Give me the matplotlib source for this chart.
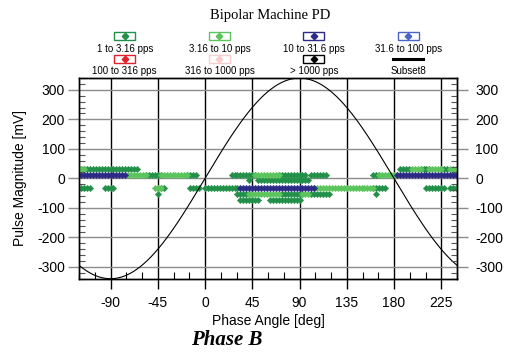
import numpy as np
import matplotlib
matplotlib.use('Agg')
import matplotlib.pyplot as plt
from matplotlib.ticker import FixedLocator, FixedFormatter, MultipleLocator
from matplotlib.patches import Rectangle
from matplotlib.lines import Line2D

plt.rcParams['font.family'] = ['Liberation Sans', 'DejaVu Sans']
plt.rcParams['axes.unicode_minus'] = False

# ---------------- data ----------------
title = "Bipolar Machine PD"
subtitle = "Phase B"
x_label = "Phase Angle [deg]"
y_label = "Pulse Magnitude [mV]"
x_ticks = [-90, -45, 0, 45, 90, 135, 180, 225]
x_tick_labels = ["-90", "-45", "0", "45", "90", "135", "180", "225"]
y_ticks = [-300, -200, -100, 0, 100, 200, 300]
y_tick_labels = ["-300", "-200", "-100", "0", "100", "200", "300"]

legend_labels = ["1 to 3.16 pps", "3.16 to 10 pps", "10 to 31.6 pps", "31.6 to 100 pps",
                 "100 to 316 pps", "316 to 1000 pps", "> 1000 pps", "Subset8"]
legend_colors = ["#23904a", "#5cc45c", "#2b2b85", "#4a64c8",
                 "#e0202a", "#f8cccc", "#000000", "#000000"]

phase_bin = 360 / 128      # instrument phase-bin width [deg]
sine_amplitude = 340       # reference sine amplitude [mV]

# occupied phase-bin runs: start phase, end phase, magnitude
# 1 to 3.16 pps (dark green)
dg_start = [-119, -75, 187, 206, 225, -55, -17, 25, 70, 101, 161, 42, 50,
            -119, -97, -41, -14, 0, 160, 212, 234, 30, 72, 100, -44, 164, 33, 61, 79]
dg_end = [-79, -66, 195, 213, 232, -43, -9, 47, 97, 116, 166, 42, 98,
          -110, -88, -38, -6, 32, 172, 228, 238, 42, 92, 119, -44, 164, 50, 76, 90]
dg_mag = [33, 33, 33, 33, 33, 12, 12, 12, 12, 12, 12, -7, -7,
          -33, -33, -33, -33, -33, -33, -33, -33, -52, -52, -52, -54, -54, -72, -72, -72]

# 3.16 to 10 pps (light green)
lg_start = [-119, 196, 214, 233, -74, -42, 48, 166, -47, 105, 43, 93]
lg_end = [-116, 205, 224, 239, -56, -18, 69, 182, -42, 159, 71, 99]
lg_mag = [33, 33, 33, 33, 12, 12, 12, 12, -33, -33, -52, -52]

# 10 to 31.6 pps (navy)
nv_start = [-119, 183, 33]
nv_end = [-75, 239, 104]
nv_mag = [12, 12, -33]


def expand(starts, ends, mags):
    px, py = [], []
    for s, e, m in zip(starts, ends, mags):
        k0 = int(round(s / phase_bin))
        k1 = int(round(e / phase_bin))
        for k in range(k0, k1 + 1):
            px.append(k * phase_bin)
            py.append(m)
    return np.array(px), np.array(py)


# ---------------- figure ----------------
fig = plt.figure(figsize=(5.06, 3.52), dpi=100)
ax = fig.add_axes([79 / 506, 1 - 279 / 352, (457 - 79) / 506, (279 - 77.5) / 352])
ax.set_xlim(-120, 240)
ax.set_ylim(-341, 342)

# grid
for xv in x_ticks:
    ax.axvline(xv, color='black', lw=1.0, zorder=1)
for yv in y_ticks:
    ax.axhline(yv, color='#8c8c8c', lw=1.0, zorder=1)

series = [(dg_start, dg_end, dg_mag, legend_colors[0]),
          (lg_start, lg_end, lg_mag, legend_colors[1]),
          (nv_start, nv_end, nv_mag, legend_colors[2])]
for s, e, m, c in series:
    px, py = expand(s, e, m)
    ax.scatter(px, py, marker='D', s=11, color=c, edgecolors=c, linewidths=0.3, zorder=3)

phase = np.linspace(-120, 240, 721)
ax.plot(phase, sine_amplitude * np.sin(np.radians(phase)), color='black', lw=0.8, zorder=4)

# ticks
ax.xaxis.set_major_locator(FixedLocator(x_ticks))
ax.xaxis.set_major_formatter(FixedFormatter(x_tick_labels))
ax.xaxis.set_minor_locator(MultipleLocator(15))
ax.yaxis.set_major_locator(FixedLocator(y_ticks))
ax.yaxis.set_major_formatter(FixedFormatter(y_tick_labels))
ax.yaxis.set_minor_locator(MultipleLocator(20))

ax.tick_params(axis='x', which='major', direction='out', length=7.5, width=1.0,
               color='black', labelsize=10, pad=5)
ax.tick_params(axis='x', which='minor', direction='in', length=5, width=0.8,
               color='black', top=False)
ax.tick_params(axis='y', which='major', direction='out', length=8, width=1.0,
               color='#8c8c8c', labelsize=10, pad=2, left=True, right=False)
ax.tick_params(axis='y', which='minor', direction='in', length=4, width=0.8,
               color='#555555', left=True, right=True)

ax2 = ax.twinx()
ax2.set_ylim(ax.get_ylim())
ax2.yaxis.set_major_locator(FixedLocator(y_ticks))
ax2.yaxis.set_major_formatter(FixedFormatter(y_tick_labels))
ax2.yaxis.set_minor_locator(MultipleLocator(20))
ax2.tick_params(axis='y', which='major', direction='out', length=8, width=1.0,
                color='#8c8c8c', labelsize=10, pad=5)
ax2.tick_params(axis='y', which='minor', direction='in', length=4, width=0.8,
                color='#555555')

for a in (ax, ax2):
    for sp in a.spines.values():
        sp.set_linewidth(1.0)
        sp.set_color('black')

ax.set_xlabel(x_label, fontsize=10)
ax.xaxis.set_label_coords(0.5, -(321 - 279) / 201.5)
ax.xaxis.label.set_va('center')
ax.set_ylabel(y_label, fontsize=10)
ax.yaxis.set_label_coords(-(79 - 20) / 378, 0.5)
ax.yaxis.label.set_va('center')

# ---------------- title / caption / legend ----------------
lax = fig.add_axes([0, 0, 1, 1], zorder=10)
lax.set_xlim(0, 506)
lax.set_ylim(352, 0)
lax.axis('off')

lax.text(270, 16, title, ha='center', va='center', fontsize=10.5,
         family=['Liberation Serif', 'DejaVu Serif'])
lax.text(227, 340, subtitle, ha='center', va='center', fontsize=15,
         family=['Liberation Serif', 'DejaVu Serif'], fontweight='bold', fontstyle='italic')

col_x = [124.7, 219.5, 314, 408.5]
box_y = [35.5, 58.5]
lab_y = [49, 71.5]
for i, (lab, col) in enumerate(zip(legend_labels, legend_colors)):
    r, c = divmod(i, 4)
    cx, cy = col_x[c], box_y[r]
    if lab == "Subset8":
        lax.add_line(Line2D([cx - 15, cx + 15], [cy, cy], color='black', lw=2.2))
    else:
        lax.add_patch(Rectangle((cx - 10.5, cy - 4), 21, 8, fill=True, facecolor='white',
                                edgecolor=col, lw=1.0))
        lax.plot([cx], [cy], marker='D', ms=3.3, color=col, mec=col)
    lax.text(cx, lab_y[r], lab, ha='center', va='center', fontsize=7,
             family=['Liberation Sans Narrow', 'Liberation Sans', 'DejaVu Sans'])

fig.savefig('out.png', dpi=100)
